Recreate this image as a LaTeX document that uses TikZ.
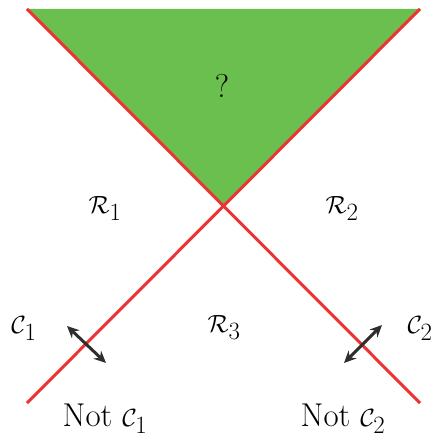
\documentclass[tikz,border=0pt]{standalone}
\usetikzlibrary{arrows.meta}
\definecolor{regiongreen}{HTML}{6ABF4F}
\definecolor{boundred}{HTML}{EC3434}
\definecolor{arrowgray}{HTML}{2E2E2E}
\begin{document}
\begin{tikzpicture}[x=1pt,y=-1pt,
  bound/.style={draw=boundred,line width=3pt},
  dir/.style={draw=arrowgray,line width=3pt,{Stealth[length=12pt,width=11pt]}-{Stealth[length=12pt,width=11pt]}},
  lbl/.style={font=\fontsize{33}{40}\selectfont,inner sep=0pt,anchor=base}]
\useasboundingbox (0,0) rectangle (437,438);
\coordinate (tl) at (27,9);
\coordinate (tr) at (420,9);
\coordinate (apex) at (223.5,207);
\coordinate (bl) at (27,403);
\coordinate (br) at (420,403);
\fill[regiongreen] (tl) -- (tr) -- (apex) -- cycle;
\draw[bound] (tl) -- (br);
\draw[bound] (tr) -- (bl);
\coordinate (a1s) at (67,326);
\coordinate (a1e) at (106,363);
\coordinate (a2s) at (344,363);
\coordinate (a2e) at (382,325);
\draw[dir] (a1s) -- (a1e);
\draw[dir] (a2s) -- (a2e);
\node[lbl] (q) at (222,98) {?};
\node[lbl] (r1) at (105,213) {$\mathcal{R}_1$};
\node[lbl] (r2) at (342,213) {$\mathcal{R}_2$};
\node[lbl] (r3) at (224,332) {$\mathcal{R}_3$};
\node[lbl] (c1) at (24,333) {$\mathcal{C}_1$};
\node[lbl] (c2) at (420,333) {$\mathcal{C}_2$};
\node[lbl] (n1) at (105,426) {Not $\mathcal{C}_1$};
\node[lbl] (n2) at (343,426) {Not $\mathcal{C}_2$};
\end{tikzpicture}
\end{document}
